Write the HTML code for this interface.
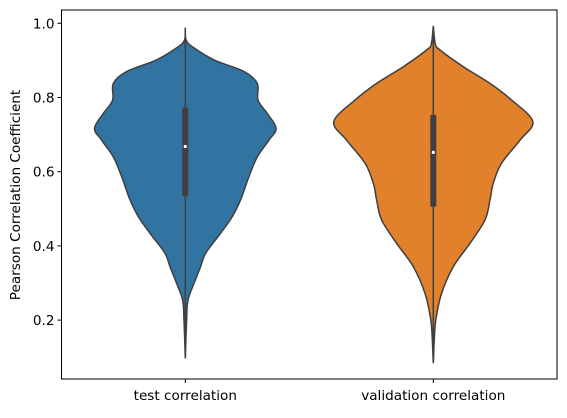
<!DOCTYPE html>
<html><head><meta charset="utf-8"><style>
body{margin:0;background:#fff}
svg text{font-family:"DejaVu Sans","Liberation Sans",sans-serif;font-size:13.6px;fill:#000}
</style></head><body>
<svg id="chart" width="567" height="413" xmlns="http://www.w3.org/2000/svg">
<g id="plot"></g>
<g id="axes"></g>
</svg>
<script>
const categories = ["test correlation", "validation correlation"];
const colors = ["#3274a1", "#e1812c"];
const yTicks = [0.2, 0.4, 0.6, 0.8, 1.0];
const tickLabels = ["0.2", "0.4", "0.6", "0.8", "1.0"];
const testVals = [0.988,0.955,0.935,0.901,0.870,0.838,0.793,0.757,0.717,0.685,0.640,0.587,0.524,0.479,0.434,0.380,0.344,0.299,0.254,0.200,0.097];
const testDens = [0,0.8,8,29,58.7,72,72.7,82,90.8,83.7,72,63.7,55.3,47,35.3,20.3,15.3,8.7,2.7,1.3,0];
const valVals = [0.993,0.945,0.928,0.883,0.838,0.793,0.735,0.685,0.623,0.569,0.524,0.470,0.407,0.344,0.272,0.209,0.164,0.084];
const valDens = [0,2,6.7,30,56.7,78.3,99.5,86.7,68.3,60,56.7,51.7,36.7,20,8.3,3,1.3,0];
const q1 = [0.535, 0.506];
const q3 = [0.773, 0.753];
const medians = [0.668, 0.652];
const whiskerLo = [0.097, 0.084];
const whiskerHi = [0.988, 0.993];

const X0=61.5, X1=557, Y0=10, Y1=379;
const yScale = v => 23.3 + (1 - v) * 371;
const xScale = i => 185.3 + i * 248;
const wScale = d => d;

const NS="http://www.w3.org/2000/svg";
function mk(tag, attrs, parent){const e=document.createElementNS(NS,tag);for(const k in attrs)e.setAttribute(k,attrs[k]);parent.appendChild(e);return e;}
function spline(pts){
  let d=`M${pts[0][0]},${pts[0][1]}`;
  for(let i=0;i<pts.length-1;i++){
    const p0=pts[Math.max(0,i-1)],p1=pts[i],p2=pts[i+1],p3=pts[Math.min(pts.length-1,i+2)];
    const c1=[p1[0]+(p2[0]-p0[0])/6,p1[1]+(p2[1]-p0[1])/6];
    const c2=[p2[0]-(p3[0]-p1[0])/6,p2[1]-(p3[1]-p1[1])/6];
    d+=` C${c1[0]},${c1[1]} ${c2[0]},${c2[1]} ${p2[0]},${p2[1]}`;
  }
  return d;
}
const plot=document.getElementById('plot');
const axes=document.getElementById('axes');
const profiles=[[testVals,testDens],[valVals,valDens]];
profiles.forEach(([vals,dens],i)=>{
  const cx=xScale(i);
  const right=vals.map((v,k)=>[cx+wScale(dens[k]),yScale(v)]);
  const left=vals.map((v,k)=>[cx-wScale(dens[k]),yScale(v)]).reverse();
  const d=spline(right)+' '+spline(left).replace('M','L')+' Z';
  const p=mk('path',{d:d,fill:colors[i],stroke:'#3f3f3f','stroke-width':1.5},plot);
  
  
  const w=mk('line',{x1:cx,x2:cx,y1:yScale(whiskerHi[i]),y2:yScale(whiskerLo[i]),stroke:'#3f3f3f','stroke-width':1.5},plot);
  
  
  const b=mk('rect',{x:cx-3,y:yScale(q3[i]),width:6,height:yScale(q1[i])-yScale(q3[i]),fill:'#3f3f3f'},plot);
  
  
  const m=mk('circle',{cx:cx,cy:yScale(medians[i]),r:1.6,fill:'#fff'},plot);
  
  
  const t=mk('line',{x1:cx,x2:cx,y1:Y1,y2:Y1+4,stroke:'#000','stroke-width':1},axes);
  
  
  const l=mk('text',{x:cx,y:Y1+21,'text-anchor':'middle'},axes);
  l.textContent=categories[i];
  
  
});
yTicks.forEach((v,k)=>{
  const y=yScale(v);
  const t=mk('line',{x1:X0-4,x2:X0,y1:y,y2:y,stroke:'#000','stroke-width':1},axes);
  
  
  const l=mk('text',{x:X0-7,y:y+5,'text-anchor':'end'},axes);
  l.textContent=tickLabels[k];
  
  
});
const frame=mk('rect',{x:X0,y:Y0,width:X1-X0,height:Y1-Y0,fill:'none',stroke:'#000','stroke-width':1},axes);


const yl=mk('text',{x:0,y:0,'text-anchor':'middle',transform:'translate(20,195) rotate(-90)'},axes);
yl.textContent='Pearson Correlation Coefficient';


</script>
</body></html>
